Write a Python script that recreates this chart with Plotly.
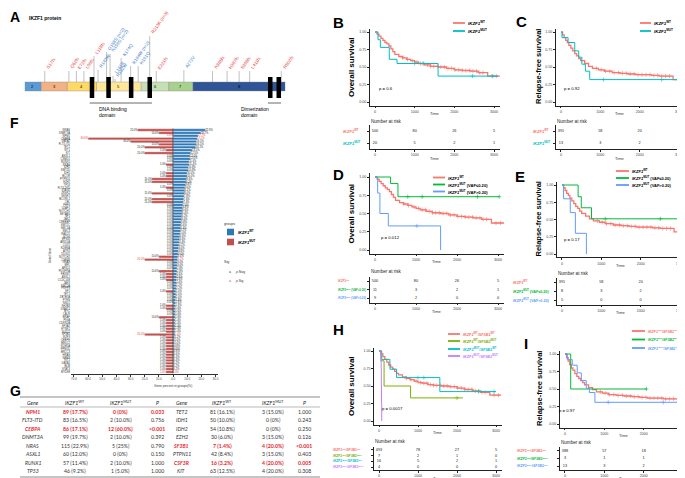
import plotly.graph_objects as go

W, H = 685, 478
SANS = "Liberation Sans"
LATO = "Lato"

# ---------------- A : IKZF1 protein ----------------
exon_name = ["2", "3", "4", "5", "6", "7", "8"]
exon_start = [0, 33, 85, 143, 232, 287, 335]
exon_end = [33, 85, 143, 232, 287, 335, 519]
zf_pos = [134, 167, 212, 249, 489, 506]
mut_name = ["S17fs", "Q62fs", "E72fs", "L98fs", "L118fs", "R143W", "G158S (n=2)", "N159S (n=2)",
            "L161R", "R162W", "K174Q", "R184W (n=2)", "H191Q", "R213K (n=3)", "E221fs", "A272V",
            "N365fs", "H387fs", "S396fs", "L411fs", "R502fs"]
mut_pos = [40, 88, 103, 118, 138, 146, 163, 170, 176, 180, 192, 211, 226, 249, 262, 317,
           374, 403, 427, 448, 511]
mut_set = [1, 1, 1, 1, 1, 2, 2, 2, 2, 2, 2, 2, 2, 1, 1, 2, 1, 1, 1, 1, 1]

# ---------------- Kaplan-Meier readings (days, survival) ----------------
os_wt_t = [0, 50, 100, 150, 200, 250, 300, 350, 400, 450, 500, 600, 700, 800, 900, 1000, 1100,
           1250, 1400, 1600, 1800, 2000, 2200, 2400, 2600, 2840, 3150]
os_wt_s = [1, .97, .94, .91, .88, .85, .83, .80, .76, .72, .68, .65, .63, .61, .59, .57, .55,
           .53, .51, .50, .48, .46, .45, .44, .42, .37, .37]
os_wt_cens = [700, 820, 950, 1060, 1150, 1230, 1320, 1400, 1480, 1570, 1660, 1750, 1840, 1930,
              2020, 2110, 2200, 2290, 2380, 2470, 2560, 2640, 2720, 2950, 3060]
os_mut_t = [0, 75, 135, 360, 555, 1590, 3100]
os_mut_s = [1, .89, .78, .61, .55, .37, .37]
os_mut_cens = [1000, 1210, 2460, 2970]

rfs_wt_t = [0, 40, 80, 120, 160, 200, 250, 300, 350, 400, 450, 500, 600, 700, 800, 950, 1100,
            1300, 1500, 1700, 1900, 2100, 2300, 2500, 2700, 2850, 3200]
rfs_wt_s = [1, .96, .92, .88, .85, .81, .77, .73, .69, .66, .62, .59, .55, .51, .48, .46, .44,
            .42, .41, .40, .39, .39, .38, .37, .37, .32, .32]
rfs_wt_cens = [900, 1020, 1130, 1240, 1350, 1460, 1560, 1660, 1760, 1860, 1960, 2060, 2160,
               2260, 2360, 2460, 2560, 2660, 2760, 2960, 3080]
rfs_mut_t = [0, 25, 180, 350, 450, 530, 620, 730, 3230]
rfs_mut_s = [1, .92, .85, .73, .64, .54, .44, .32, .32]
rfs_mut_cens = [1080, 2560, 3100]

d_low_t = [0, 380, 560, 3030]
d_low_s = [1, .91, .73, .73]
d_low_cens = [800, 1150, 2500, 3030]
d_high_t = [0, 65, 120, 325, 1600]
d_high_s = [1, .78, .50, .33, 0]
d_high_cens = [1020]

e_low_t = [0, 410, 490, 750, 3000]
e_low_s = [1, .83, .67, .51, .51]
e_low_cens = [1100, 2500, 3000]
e_high_t = [0, 40, 210, 340, 620]
e_high_s = [1, .80, .60, .30, 0]
e_high_cens = []

h_ww_t = [0, 50, 100, 150, 200, 250, 300, 350, 400, 450, 500, 600, 700, 800, 900, 1000, 1100,
          1250, 1400, 1600, 1800, 2000, 2200, 2400, 2600, 2840, 3130]
h_ww_s = [1, .96, .92, .88, .84, .80, .77, .74, .71, .68, .66, .63, .61, .59, .57, .55, .54,
          .52, .51, .50, .49, .47, .45, .43, .41, .37, .37]
h_ww_cens = os_wt_cens
h_wm_t = [0, 50, 130, 810, 2150]
h_wm_s = [1, .86, .50, .33, .33]
h_wm_cens = [2000]
h_mw_t = [0, 70, 280, 450, 1560, 3000]
h_mw_s = [1, .88, .74, .62, .42, .42]
h_mw_cens = [1000, 1150, 2550, 2950]
h_mm_t = [0, 55, 60, 65, 70]
h_mm_s = [1, .75, .50, .25, 0]
h_mm_cens = []

i_ww_t = [0, 40, 80, 120, 160, 200, 250, 300, 350, 400, 450, 500, 600, 700, 800, 950, 1100,
          1300, 1500, 1700, 1900, 2100, 2300, 2500, 2700, 2860, 3200]
i_ww_s = [1, .95, .90, .85, .80, .77, .72, .68, .65, .62, .59, .56, .52, .49, .46, .44, .42,
          .41, .40, .39, .38, .37, .37, .36, .36, .31, .31]
i_ww_cens = rfs_wt_cens
i_wm_t = [0, 145, 2070]
i_wm_s = [1, .50, .50]
i_wm_cens = [2070]
i_mw_t = [0, 60, 185, 310, 415, 540, 620, 760, 3200]
i_mw_s = [1, .92, .84, .73, .62, .51, .45, .31, .31]
i_mw_cens = [1100, 2500, 3050]

risk_t = [0, 1000, 2000, 3000]
risk_b = [[500, 80, 26, 5], [20, 5, 2, 1]]
risk_c = [[391, 58, 20, 2], [13, 3, 2, 0]]
risk_d = [[500, 80, 26, 5], [11, 3, 2, 1], [9, 2, 0, 0]]
risk_e = [[391, 58, 20, 2], [8, 3, 2, 0], [5, 0, 0, 0]]
risk_h = [[493, 78, 27, 5], [7, 2, 1, 0], [16, 5, 2, 1], [4, 0, 0, 0]]
risk_i = [[388, 57, 18, 2], [3, 1, 1, 0], [13, 3, 2, 0]]

# ---------------- F : gene percent in groups ----------------
genes = ["NRAS", "DNMT3A", "NPM1", "CEBPA", "GATA2", "FLT3-ITD", "TET2", "WT1", "KIT", "ASXL1",
         "CSMD1", "RUNX1", "KRAS", "IDH2", "KMT2D", "IDH1", "BCOR", "PTPN11", "EZH2", "TP53",
         "FLT3-TKD", "STAG2", "ZRSR2", "SRSF2", "BCORL1", "CBL", "PHF6", "U2AF1", "NOTCH1", "SETBP1",
         "NF1", "JAK2", "CREBBP", "KMT2C", "SMC1A", "SMC3", "RAD21", "ETV6", "EP300", "ARID1A",
         "CUX1", "KDM6A", "ATRX", "DDX41", "NOTCH2", "CSF3R", "GNAS", "MPL", "ARID2", "PDGFRA",
         "FBXW7", "ASXL2", "CCDC168", "JAK3", "KMT2A", "PRPF8", "SF1", "TET1", "ZBTB7A", "PTEN",
         "NSD1", "SH2B3", "DNMT1", "MYC", "CALR", "BRAF", "PIGA", "CDKN2A", "SF3A1", "ETNK1",
         "SUZ12", "SF3B1", "IKZF3", "CEBPE", "MED12", "KDM5A", "PPM1D", "BRCC3", "HRAS", "NPM3",
         "RIT1", "GATA1", "BLM", "STAT3", "MYD88"]
wt_pct = [22.9, 19.7, 17.7, 17.1, 16.5, 16.5, 16.1, 13.5, 12.5, 12.0,
          12.0, 11.4, 11.4, 10.8, 10.8, 10.0, 10.0, 9.6, 9.2, 8.8,
          8.4, 8.2, 8.0, 7.8, 7.6, 7.4, 7.0, 6.8, 6.6, 6.4,
          6.2, 6.0, 5.8, 5.6, 5.4, 5.2, 5.0, 4.8, 4.6, 4.4,
          4.2, 4.0, 3.8, 3.6, 3.4, 3.2, 3.0, 3.0, 2.8, 2.8,
          2.6, 2.6, 2.4, 2.4, 2.2, 2.2, 2.0, 2.0, 2.0, 1.8,
          1.8, 1.8, 1.6, 1.6, 1.6, 1.6, 1.4, 1.4, 1.4, 1.4,
          1.4, 1.4, 1.2, 1.0, 1.0, 0.8, 0.8, 0.6, 0.6, 0.4,
          0.4, 0.2, 0.2, 0.2, 0.0]
mut_pct = [25, 10, 0, 60, 30, 10, 20, 5, 20, 0,
           0, 0, 5, 0, 0, 5, 5, 15, 15, 0,
           5, 0, 15, 0, 15, 15, 0, 0, 0, 0,
           0, 0, 0, 0, 0, 0, 0, 0, 0, 0,
           0, 0, 0, 0, 10, 20, 0, 0, 0, 10,
           5, 5, 5, 0, 0, 0, 5, 0, 0, 0,
           0, 5, 5, 0, 0, 10, 5, 5, 5, 5,
           5, 20, 5, 5, 5, 5, 5, 5, 5, 5,
           5, 5, 5, 5, 5]
sig_genes = ["NPM1", "CEBPA", "CSF3R", "SF3B1", "MYD88"]

# ---------------- G : table ----------------
g_gene1 = ["NPM1", "FLT3-ITD", "CEBPA", "DNMT3A", "NRAS", "ASXL1", "RUNX1", "TP53"]
g_wt1 = ["89 (17.7%)", "83 (16.5%)", "86 (17.1%)", "99 (19.7%)", "115 (22.9%)", "60 (12.0%)",
         "57 (11.4%)", "46 (9.2%)"]
g_mut1 = ["0 (0%)", "2 (10.0%)", "12 (60.0%)", "2 (10.0%)", "5 (25%)", "0 (0%)", "2 (10.0%)",
          "1 (5.0%)"]
g_p1 = ["0.033", "0.756", "<0.001", "0.392", "0.790", "0.150", "1.000", "1.000"]
g_gene2 = ["TET2", "IDH1", "IDH2", "EZH2", "SF3B1", "PTPN11", "CSF3R", "KIT"]
g_wt2 = ["81 (16.1%)", "50 (10.0%)", "54 (10.8%)", "30 (6.0%)", "7 (1.4%)", "42 (8.4%)",
         "16 (3.2%)", "63 (12.5%)"]
g_mut2 = ["3 (15.0%)", "0 (0%)", "0 (0%)", "3 (15.0%)", "4 (20.0%)", "3 (15.0%)", "4 (20.0%)",
          "4 (20.0%)"]
g_p2 = ["1.000", "0.243", "0.250", "0.126", "<0.001", "0.403", "0.005", "0.308"]
g_sig = ["NPM1", "CEBPA", "SF3B1", "CSF3R"]

# ================= drawing =================
WT = "<i>IKZF1</i><sup>WT</sup>"
MUT = "<i>IKZF1</i><sup>MUT</sup>"
C2 = ["#F8766D", "#00BFC4"]
C3 = ["#F8766D", "#00BA38", "#619CFF"]
C4 = ["#F8766D", "#7CAE00", "#00BFC4", "#C77CFF"]
RED_T = "#E8393B"
BLUE_T = "#3F7FC8"

fig = go.Figure()
axes = {}
ann = []
shp = []


def new_axes(xpx, ypx, xkw, ykw):
    n = len(axes) // 2 + 1
    s = "" if n == 1 else str(n)
    base = dict(showgrid=False, zeroline=False, automargin=False)
    axes["xaxis" + s] = dict(base, domain=[xpx[0] / W, xpx[1] / W], anchor="y" + s, **xkw)
    axes["yaxis" + s] = dict(base, domain=[1 - ypx[1] / H, 1 - ypx[0] / H], anchor="x" + s, **ykw)
    return "x" + s, "y" + s


def note(x, y, s, size=4.5, color="black", xa="center", ya="middle", angle=0, fam=SANS,
         xref="paper", yref="paper"):
    ann.append(dict(x=x / W if xref == "paper" else x, y=1 - y / H if yref == "paper" else y,
                    xref=xref, yref=yref, text=s, showarrow=False, textangle=angle,
                    xanchor=xa, yanchor=ya, borderpad=0,
                    font=dict(size=size, color=color, family=fam)))


def seg(x0, y0, x1, y1, color="black", width=0.6, xref="paper", yref="paper"):
    if xref == "paper":
        x0, x1 = x0 / W, x1 / W
    if yref == "paper":
        y0, y1 = 1 - y0 / H, 1 - y1 / H
    shp.append(dict(type="line", x0=x0, y0=y0, x1=x1, y1=y1, xref=xref, yref=yref,
                    line=dict(color=color, width=width)))


def surv_at(ts, ss, t):
    v = ss[0]
    for a, b in zip(ts, ss):
        if a <= t:
            v = b
    return v


# ---- A ----
note(7, 9, "<b>A</b>", size=14)
note(20, 10, "<b>IKZF1 protein</b>", size=5, xa="left")
ax, ay = new_axes((16.7, 277.3), (0, 112), dict(range=[0, 519], visible=False),
                  dict(range=[112, 0], visible=False))
exon_fill = ["#5B9BD5", "#F4B183", "#FFD966", "#FFE699", "#C5E0B4", "#A9D18E", "#2F5597"]
label_base = [63, 63, 63, 63, 48, 62, 44, 46, 68, 71, 50, 58, 58, 28, 63, 62, 63, 63, 63, 63, 63]
for p, b in zip(mut_pos, label_base):
    seg(p, 74, p, b, color="#A6A6A6", width=0.7, xref=ax, yref=ay)
for name, a, b, col in zip(exon_name, exon_start, exon_end, exon_fill):
    shp.append(dict(type="rect", xref=ax, yref=ay, x0=a, x1=b, y0=74, y1=83, fillcolor=col,
                    line=dict(color="#8C8C8C", width=0.4)))
    note((a + b) / 2, 78.5, name, size=4, xref=ax, yref=ay)
for p in zf_pos:
    shp.append(dict(type="rect", xref=ax, yref=ay, x0=p - 4.5, x1=p + 4.5, y0=69, y1=90,
                    fillcolor="black", line=dict(width=0)))
for name, p, b, k in zip(mut_name, mut_pos, label_base, mut_set):
    note(p - 2, b, name, size=4.5, color=RED_T if k == 1 else BLUE_T, xa="left", ya="bottom",
         angle=-55, xref=ax, yref=ay)
seg(zf_pos[0] - 4.5, 95, zf_pos[3] + 4.5, 95, color="#444", width=0.8, xref=ax, yref=ay)
seg(zf_pos[4] - 4.5, 95, zf_pos[5] + 4.5, 95, color="#444", width=0.8, xref=ax, yref=ay)
note(90, 101, "DNA binding", size=5, xa="left")
note(90, 107, "domain", size=5, xa="left")
note(232, 101, "Dimerization", size=5, xa="left")
note(232, 107, "domain", size=5, xa="left")

# ---- Kaplan-Meier panels ----
km_panels = [
    dict(letter="B", lxy=(330, 14), box=(367, 486, 24, 94), ytitle="Overall survival", ytx=343,
         curves=[(os_wt_t, os_wt_s, os_wt_cens), (os_mut_t, os_mut_s, os_mut_cens)], colors=C2,
         names=[WT, MUT], leg=(445, 457, [15, 23]), lsz=4.4, legcol=False, p="p = 0.6",
         pxy=(370, 80), risk=risk_b, tab=(117, 141), nar=113, rowx=334, rsz=4, tgap=10),
    dict(letter="C", lxy=(513, 13), box=(553, 671, 24, 94), ytitle="Relapse-free survival", ytx=530,
         curves=[(rfs_wt_t, rfs_wt_s, rfs_wt_cens), (rfs_mut_t, rfs_mut_s, rfs_mut_cens)],
         colors=C2, names=[WT, MUT], leg=(632, 643, [15, 23]), lsz=4.4, legcol=False,
         p="p = 0.92", pxy=(555, 80), risk=risk_c, tab=(117, 141), nar=113, rowx=524, rsz=4,
         tgap=10),
    dict(letter="D", lxy=(330, 166), box=(367, 490, 169, 242), ytitle="Overall survival", ytx=343,
         curves=[(os_wt_t, os_wt_s, os_wt_cens), (d_low_t, d_low_s, d_low_cens),
                 (d_high_t, d_high_s, d_high_cens)], colors=C3,
         names=[WT, MUT + " (VAF≤0.20)", MUT + " (VAF>0.20)"], leg=(425, 437, [169.5, 176.5, 183.5]),
         lsz=4.1, legcol=False, p="p = 0.012", pxy=(372, 229), risk=risk_d, tab=(269, 294.5),
         nar=263, rowx=329, rsz=2.9, tgap=9),
    dict(letter="E", lxy=(512, 168), box=(554, 672, 177, 246), ytitle="Relapse-free survival",
         ytx=530, curves=[(rfs_wt_t, rfs_wt_s, rfs_wt_cens), (e_low_t, e_low_s, e_low_cens),
                          (e_high_t, e_high_s, e_high_cens)], colors=C3,
         names=[WT, MUT + " (VAF≤0.20)", MUT + " (VAF>0.20)"], leg=(608, 621, [163, 170, 177]),
         lsz=4.0, legcol=False, p="p = 0.17", pxy=(555, 232), risk=risk_e, tab=(269.5, 296.5),
         nar=265, rowx=504, rsz=3.7, tgap=8),
    dict(letter="H", lxy=(330, 321), box=(371, 488, 343, 413), ytitle="Overall survival", ytx=343,
         curves=[(h_ww_t, h_ww_s, h_ww_cens), (h_wm_t, h_wm_s, h_wm_cens),
                 (h_mw_t, h_mw_s, h_mw_cens), (h_mm_t, h_mm_s, h_mm_cens)], colors=C4,
         names=[WT + "/<i>SF3B1</i><sup>WT</sup>", WT + "/<i>SF3B1</i><sup>MUT</sup>",
                MUT + "/<i>SF3B1</i><sup>WT</sup>", MUT + "/<i>SF3B1</i><sup>MUT</sup>"],
         leg=(440, 452, [326, 333, 341, 348]), lsz=3.8, legcol=True, p="p = 0.0017",
         pxy=(373, 400), risk=risk_h, tab=(439, 462), nar=433, rowx=324, rsz=3.3, tgap=8),
    dict(letter="I", lxy=(518, 335), box=(557, 675, 346, 416), ytitle="Relapse-free survival",
         ytx=531, curves=[(i_ww_t, i_ww_s, i_ww_cens), (i_wm_t, i_wm_s, i_wm_cens),
                          (i_mw_t, i_mw_s, i_mw_cens)], colors=C3,
         names=[WT + "/<i>SF3B1</i><sup>WT</sup>", WT + "/<i>SF3B1</i><sup>MUT</sup>",
                MUT + "/<i>SF3B1</i><sup>WT</sup>"],
         leg=(624, 637, [323, 331.5, 340]), lsz=3.6, legcol=True, p="p = 0.97", pxy=(550, 402),
         risk=risk_i, tab=(439, 462), nar=434, rowx=508, rsz=3.5, tgap=8),
]

tick_font = dict(size=3.6, color="#444", family=SANS)
XR = [-130, 3150]
for P in km_panels:
    x0, x1, y0, y1 = P["box"]
    k = (x1 - x0) / 3000.0
    xl, xr = x0 + XR[0] * k, x0 + XR[1] * k
    sp = y1 - y0
    xkw = dict(range=XR, showline=True, linecolor="#222", linewidth=0.6, ticks="outside",
               ticklen=2, tickwidth=0.5, tickcolor="#222", tickvals=risk_t, tickfont=tick_font)
    ykw = dict(range=[-0.05, 1.05], showline=True, linecolor="#222", linewidth=0.6,
               ticks="outside", ticklen=2, tickwidth=0.5, tickcolor="#222",
               tickvals=[0, .25, .5, .75, 1], ticktext=["0.00", "0.25", "0.50", "0.75", "1.00"],
               tickfont=tick_font)
    kx, ky = new_axes((xl, xr), (y0 - 0.05 * sp, y1 + 0.05 * sp), xkw, ykw)
    for idx, ((t, s, cens), col) in enumerate(zip(P["curves"], P["colors"])):
        fig.add_trace(go.Scatter(x=t, y=s, mode="lines",
                                 line=dict(color=col, width=1.3 if idx == 0 else 1, shape="hv"),
                                 xaxis=kx, yaxis=ky, showlegend=False, hoverinfo="skip"))
        if cens:
            fig.add_trace(go.Scatter(x=cens, y=[surv_at(t, s, c) for c in cens], mode="markers",
                                     marker=dict(symbol="cross-thin", size=3,
                                                 line=dict(color=col, width=0.6)),
                                     xaxis=kx, yaxis=ky, showlegend=False, hoverinfo="skip"))
    note(P["lxy"][0], P["lxy"][1], "<b>" + P["letter"] + "</b>", size=15)
    note(P["ytx"], (y0 + y1) / 2, "<b>" + P["ytitle"] + "</b>",
         size=8 if "Overall" in P["ytitle"] else 7.5, angle=-90)
    note(P["pxy"][0], P["pxy"][1], P["p"], size=4.3, xa="left")
    note((x0 + x1) / 2, y1 + 11, "Time", size=4, color="#333")
    lx0, lx1, ly = P["leg"]
    for nm, col, yy in zip(P["names"], P["colors"], ly):
        seg(lx0, yy, lx1, yy, color=col, width=1.8)
        note(lx1 + 2, yy, "<b>" + nm + "</b>", size=P["lsz"], xa="left",
             color=col if P["legcol"] else "black")
    # risk table
    ta, tb = P["tab"]
    n = len(P["risk"])
    tkw = dict(range=[n - 0.5, -0.5], showline=True, linecolor="#222", linewidth=0.6,
               ticks="outside", ticklen=2, tickwidth=0.5, tickcolor="#222",
               tickvals=list(range(n)), showticklabels=False)
    tx, ty = new_axes((xl, xr), (ta, tb), dict(xkw), tkw)
    for i, row in enumerate(P["risk"]):
        fig.add_trace(go.Scatter(x=risk_t, y=[i] * len(row), mode="text", text=[str(v) for v in row],
                                 textfont=dict(size=3.8, color="#222", family=SANS),
                                 xaxis=tx, yaxis=ty, showlegend=False, hoverinfo="skip"))
        note(P["rowx"], ta + (tb - ta) * (i + 0.5) / n, "<b>" + P["names"][i] + "</b>",
             size=P["rsz"], color=P["colors"][i], xa="left")
    note(xl, P["nar"], "Number at risk", size=4.6, xa="left", color="#222")
    note((x0 + x1) / 2, tb + P["tgap"], "Time", size=4, color="#333")

# ---- F ----
note(6, 115, "<b>F</b>", size=14)
BLUE_B = "#2E78B7"
RED_B = "#C0504D"
rows = list(range(len(genes)))
fx, fy = new_axes((63, 210), (120, 366),
                  dict(range=[-72.1, 31.8], showline=True, linecolor="#333", linewidth=0.6,
                       ticks="outside", ticklen=2, tickwidth=0.5, tickcolor="#333",
                       tickvals=[-70, -60, -50, -40, -30, -20, -10, 0, 10, 20, 30],
                       ticktext=["70.0", "60.0", "50.0", "40.0", "30.0", "20.0", "10.0", "0.0",
                                 "10.0", "20.0", "30.0"],
                       tickfont=dict(size=3, color="#444", family=SANS)),
                  dict(range=[84.7, -0.7], tickvals=rows, ticktext=genes, ticks="",
                       tickfont=dict(size=2.7, color="#333", family=SANS)))
fig.add_trace(go.Bar(y=rows, x=wt_pct, orientation="h", width=0.82, marker=dict(
    color=BLUE_B, line=dict(color="white", width=0.3)), xaxis=fx, yaxis=fy, showlegend=False,
    hoverinfo="skip"))
fig.add_trace(go.Bar(y=rows, x=[-v for v in mut_pct], orientation="h", width=0.82, marker=dict(
    color=RED_B, line=dict(color="white", width=0.3)), xaxis=fx, yaxis=fy, showlegend=False,
    hoverinfo="skip"))
lab_col = ["#E8393B" if g in sig_genes else "#222" for g in genes]
fig.add_trace(go.Scatter(y=rows, x=wt_pct, mode="text", text=["%.1f%%" % v for v in wt_pct],
                         textposition="middle right", textfont=dict(size=2.6, color=lab_col),
                         xaxis=fx, yaxis=fy, showlegend=False, hoverinfo="skip", cliponaxis=False))
fig.add_trace(go.Scatter(y=rows, x=[-v for v in mut_pct], mode="text",
                         text=["%.1f%%" % v for v in mut_pct], textposition="middle left",
                         textfont=dict(size=2.6, color=lab_col), xaxis=fx, yaxis=fy,
                         showlegend=False, hoverinfo="skip", cliponaxis=False))
seg(0, -0.5, 0, 84.5, color="black", width=0.6, xref=fx, yref=fy)
note(42, 247, "Gene Name", size=2.8, angle=-90, color="#333")
note(165, 378, "Gene percent in groups(%)", size=3.2, color="#333")
note(215, 216, "groups", size=3.6, xa="left", color="#333")
for yy, col, nm in [(224, BLUE_B, WT), (234, RED_B, MUT)]:
    shp.append(dict(type="rect", xref="paper", yref="paper", x0=219 / W, x1=226 / W,
                    y0=1 - (yy + 3.3) / H, y1=1 - (yy - 3.3) / H, fillcolor=col, line=dict(width=0)))
    note(229, yy, "<b>" + nm + "</b>", size=4, xa="left")
note(215, 254, "Sig", size=3.6, xa="left", color="#333")
note(222, 264, "a", size=3.5, color="#333")
note(226, 264, "<i>p</i>.Nsig", size=3.2, xa="left", color="#333")
note(222, 273, "a", size=3.5, color="#E8393B")
note(226, 273, "<i>p</i>.Sig", size=3.2, xa="left", color="#333")

# ---- G ----
note(7, 383, "<b>G</b>", size=14)
g_x = [25, 67, 113, 149, 174, 214, 265, 296]
g_head = ["<i>Gene</i>", "<i>IKZF1</i><sup>WT</sup>", "<i>IKZF1</i><sup>MUT</sup>", "<i>P</i>",
          "<i>Gene</i>", "<i>IKZF1</i><sup>WT</sup>", "<i>IKZF1</i><sup>MUT</sup>", "<i>P</i>"]
seg(12, 389, 312, 389, color="#8C8C8C", width=1.1)
seg(12, 399, 312, 399, color="#8C8C8C", width=0.6)
seg(12, 469, 312, 469, color="#8C8C8C", width=1.1)
for xx, hd in zip(g_x, g_head):
    note(xx, 394.5, hd, size=5.2, fam=LATO, color="#222")
for i in range(len(g_gene1)):
    yy = 403.5 + 8.5 * i
    for cells, xs in [((g_gene1[i], g_wt1[i], g_mut1[i], g_p1[i]), g_x[:4]),
                      ((g_gene2[i], g_wt2[i], g_mut2[i], g_p2[i]), g_x[4:])]:
        sig = cells[0] in g_sig
        for j, (cx, cv) in enumerate(zip(xs, cells)):
            s = "<i>" + cv + "</i>" if j == 0 else cv
            if sig:
                s = "<b>" + s + "</b>"
            note(cx, yy, s, size=5.2, fam=LATO, color="#E8262B" if sig else "#333")

fig.update_layout(width=W, height=H, margin=dict(l=0, r=0, t=0, b=0), template="none",
                  paper_bgcolor="white", plot_bgcolor="rgba(0,0,0,0)", barmode="overlay",
                  font=dict(family=SANS), annotations=ann, shapes=shp, showlegend=False, **axes)
fig.write_html("out.html")
